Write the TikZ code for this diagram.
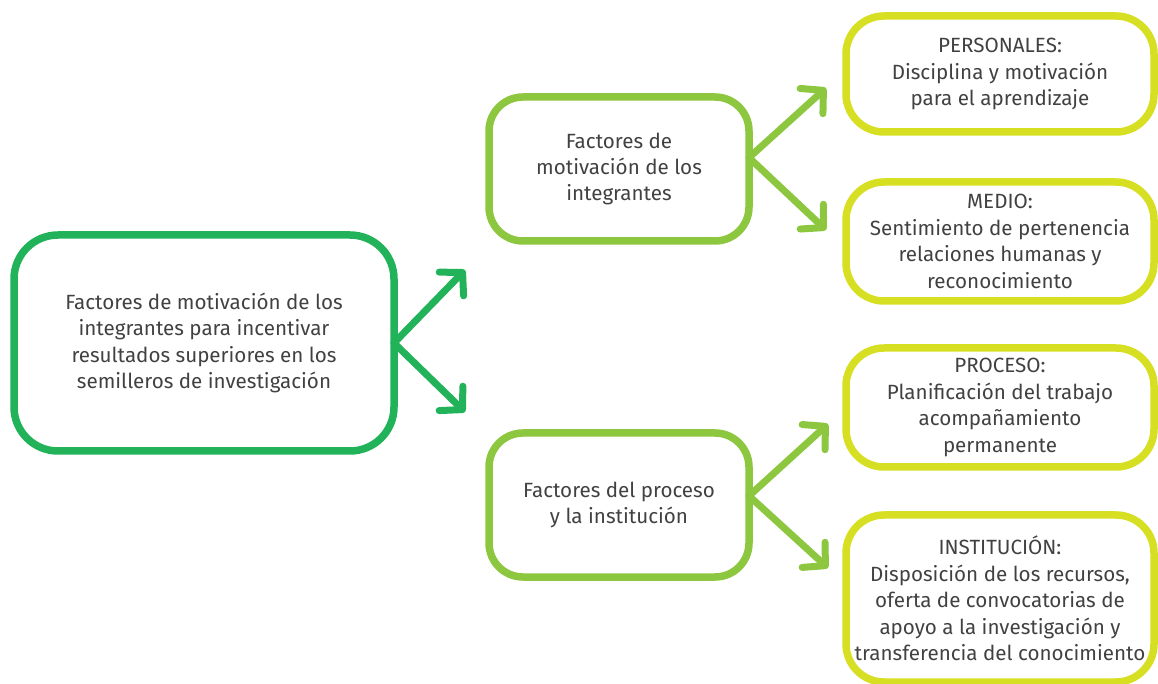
\documentclass[tikz,border=0pt]{standalone}
\usepackage{fontspec}
\setmainfont{Fira Sans}
\usetikzlibrary{arrows.meta}
\definecolor{verdeoscuro}{RGB}{34,179,90}
\definecolor{verdemedio}{RGB}{141,198,63}
\definecolor{verdelima}{RGB}{215,223,35}
\definecolor{textogris}{RGB}{65,64,66}
\tikzset{
    caja/.style={draw, line width=3.75pt, align=center, text=textogris,
        font=\fontsize{10.3}{13.2}\selectfont, inner sep=0pt, outer sep=0pt},
    principal/.style={caja, draw=verdeoscuro, rounded corners=22pt,
        minimum width=190pt, minimum height=108pt},
    factor/.style={caja, draw=verdemedio, rounded corners=17pt,
        minimum width=130pt, minimum height=72pt},
    detalle/.style={caja, draw=verdelima, rounded corners=19pt,
        minimum width=154pt},
    flecha/.style={line width=3.5pt, line cap=round,
        -{Straight Barb[length=8pt,width=17pt,round]}},
}
\begin{document}
\begin{tikzpicture}[x=0.5pt, y=-0.5pt]
	\useasboundingbox (0,0) rectangle (1158,684);
	% cajas
	\node[principal] (semilleros) at (204,343) {Factores de motivación de los\\integrantes para incentivar\\resultados superiores en los\\semilleros de investigación};
	\node[factor] (integrantes) at (619,169) {Factores de\\motivación de los\\integrantes};
	\node[factor] (proceso) at (619,505) {Factores del proceso\\y la institución};
	\node[detalle, minimum height=58pt] (personales) at (1000,74) {PERSONALES:\\Disciplina y motivación\\para el aprendizaje};
	\node[detalle, minimum height=59.5pt] (medio) at (1000,241.5) {MEDIO:\\Sentimiento de pertenencia\\relaciones humanas y\\reconocimiento};
	\node[detalle, minimum height=59.5pt] (procesodet) at (1000,407.5) {PROCESO:\\Planificación del trabajo\\acompañamiento\\permanente};
	\node[detalle, minimum height=83.5pt] (institucion) at (1000,598.5) {INSTITUCIÓN:\\Disposición de los recursos,\\oferta de convocatorias de\\apoyo a la investigación y\\transferencia del conocimiento};
	% puntas de flecha
	\coordinate (p1) at (465,270);
	\coordinate (p2) at (465,412);
	\coordinate (p3) at (826,88);
	\coordinate (p4) at (826,230);
	\coordinate (p5) at (828,424);
	\coordinate (p6) at (828,568);
	% flechas
	\draw[flecha, draw=verdeoscuro] (semilleros.east) -- (p1);
	\draw[flecha, draw=verdeoscuro] (semilleros.east) -- (p2);
	\draw[flecha, draw=verdemedio] (integrantes.5) -- (p3);
	\draw[flecha, draw=verdemedio] (integrantes.5) -- (p4);
	\draw[flecha, draw=verdemedio] (proceso.4) -- (p5);
	\draw[flecha, draw=verdemedio] (proceso.4) -- (p6);
\end{tikzpicture}
\end{document}
